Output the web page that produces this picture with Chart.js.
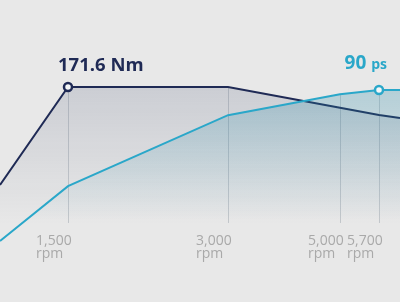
<!DOCTYPE html>
<html>
<head>
<meta charset="utf-8">
<script src="https://cdn.jsdelivr.net/npm/chart.js@4.4.0/dist/chart.umd.min.js"></script>
<style>
  html, body { margin: 0; padding: 0; background: #e8e8e8; }
  #wrap { width: 400px; height: 302px; position: relative; }
</style>
</head>
<body>
<div id="wrap"><canvas id="chart"></canvas></div>
<script>
// engine speed (rpm) for each data point
const rpm = [1000, 1500, 3000, 5000, 5700, 6000];
// torque in Nm and power in ps
const torqueNm = [93.4, 171.6, 171.6, 155.0, 149.2, 146.8];
const powerPs = [25.9, 49.2, 79.3, 88.2, 90, 90];
// rpm values that get a tick and a gridline
const tickRpm = [1500, 3000, 5000, 5700];
const tickLabels = ['1,500', '3,000', '5,000', '5,700'];
const tickUnit = 'rpm';
// the rpm axis is not evenly spaced: where each stop sits along the width
const axisStops = [1000, 1500, 3000, 5000, 5700, 6000];
const axisStopPos = [0, 0.17, 0.57, 0.85, 0.9475, 1];

const NAVY = '#1f2a55';
const TEAL = '#2aa7c9';
const FONT = '"Open Sans", "DejaVu Sans", sans-serif';

function interp(v, from, to) {
    let i = 0;
    while (i < from.length - 2 && v > from[i + 1]) i++;
    const t = (v - from[i]) / (from[i + 1] - from[i]);
    return to[i] + t * (to[i + 1] - to[i]);
}

// linear scale with a piecewise mapping so the rpm stops land where the artwork puts them
class RpmScale extends Chart.LinearScale {
    getPixelForValue(value) {
        if (value === null || value === undefined) return NaN;
        return this.getPixelForDecimal(interp(value, axisStops, axisStopPos));
    }
    getValueForPixel(pixel) {
        return interp(this.getDecimalForPixel(pixel), axisStopPos, axisStops);
    }
}
RpmScale.id = 'rpm';
RpmScale.defaults = Chart.LinearScale.defaults;
Chart.register(RpmScale);

const peakTorqueIdx = torqueNm.indexOf(Math.max(...torqueNm));
const peakPowerIdx = powerPs.indexOf(Math.max(...powerPs));

function gradient(ctx, color, alpha, end) {
    const g = ctx.createLinearGradient(0, 85, 0, end);
    g.addColorStop(0, `rgba(${color},${alpha})`);
    g.addColorStop(1, `rgba(${color},0)`);
    return g;
}

const rpmGrid = {
    id: 'rpmGrid',
    beforeDatasetsDraw(chart) {
        const { ctx, scales } = chart;
        const x = scales.x;
        const bottom = 223;
        ctx.save();
        ctx.strokeStyle = 'rgba(140,150,160,0.4)';
        ctx.lineWidth = 1;
        tickRpm.forEach(r => {
            const i = rpm.indexOf(r);
            const px = Math.round(x.getPixelForValue(r)) + 0.5;
            const top = Math.min(scales.yT.getPixelForValue(torqueNm[i]), scales.yP.getPixelForValue(powerPs[i]));
            ctx.beginPath();
            ctx.moveTo(px, top);
            ctx.lineTo(px, bottom);
            ctx.stroke();
        });
        ctx.restore();
    },
    afterDraw(chart) {
        const { ctx, scales } = chart;
        const x = scales.x;
        ctx.save();
        // tick labels
        ctx.fillStyle = '#a9a9a9';
        ctx.font = '14px ' + FONT;
        ctx.textAlign = 'left';
        ctx.textBaseline = 'alphabetic';
        tickRpm.forEach((r, i) => {
            const px = x.getPixelForValue(r);
            ctx.fillText(tickLabels[i], px - 32, 245);
            ctx.fillText(tickUnit, px - 32, 258);
        });
        // peak torque label
        const tx = x.getPixelForValue(rpm[peakTorqueIdx]);
        const ty = scales.yT.getPixelForValue(torqueNm[peakTorqueIdx]);
        ctx.fillStyle = NAVY;
        ctx.font = 'bold 18.5px ' + FONT;
        ctx.fillText(torqueNm[peakTorqueIdx].toFixed(1) + ' Nm', tx - 10, ty - 16);
        // peak power label
        const px = x.getPixelForValue(rpm[peakPowerIdx]);
        const py = scales.yP.getPixelForValue(powerPs[peakPowerIdx]);
        ctx.fillStyle = TEAL;
        ctx.font = 'bold 19px ' + FONT;
        const num = String(powerPs[peakPowerIdx]);
        const wNum = ctx.measureText(num + ' ').width;
        ctx.font = 'bold 14px ' + FONT;
        const wUnit = ctx.measureText('ps').width;
        const left = px + 8 - wNum - wUnit;
        ctx.font = 'bold 19px ' + FONT;
        ctx.fillText(num, left, py - 21);
        ctx.font = 'bold 14px ' + FONT;
        ctx.fillText('ps', left + wNum, py - 21);
        ctx.restore();
    }
};

new Chart(document.getElementById('chart'), {
    type: 'line',
    data: {
        datasets: [
            {
                label: 'Power',
                data: rpm.map((r, i) => ({ x: r, y: powerPs[i] })),
                yAxisID: 'yP',
                borderColor: TEAL,
                borderWidth: 2,
                tension: 0,
                fill: 'start',
                backgroundColor: (c) => gradient(c.chart.ctx, '40,140,170', 0.28, 220),
                pointRadius: rpm.map((r, i) => i === peakPowerIdx ? 4 : 0),
                pointBorderWidth: 2.5,
                pointBackgroundColor: '#f4f6f7',
                pointBorderColor: TEAL,
            },
            {
                label: 'Torque',
                data: rpm.map((r, i) => ({ x: r, y: torqueNm[i] })),
                yAxisID: 'yT',
                borderColor: NAVY,
                borderWidth: 2,
                tension: 0,
                fill: 'start',
                backgroundColor: (c) => gradient(c.chart.ctx, '40,55,95', 0.15, 225),
                pointRadius: rpm.map((r, i) => i === peakTorqueIdx ? 4 : 0),
                pointBorderWidth: 2.5,
                pointBackgroundColor: '#f4f6f7',
                pointBorderColor: NAVY,
            },
        ],
    },
    options: {
        responsive: true,
        maintainAspectRatio: false,
        animation: false,
        layout: { padding: 0 },
        plugins: {
            legend: { display: false },
            tooltip: { enabled: false },
        },
        scales: {
            x: { type: 'rpm', min: 1000, max: 6000, display: false },
            yT: { type: 'linear', min: 0, max: 241, display: false },
            yP: { type: 'linear', min: 0, max: 128.2, display: false },
        },
    },
    plugins: [rpmGrid],
});
</script>
</body>
</html>
